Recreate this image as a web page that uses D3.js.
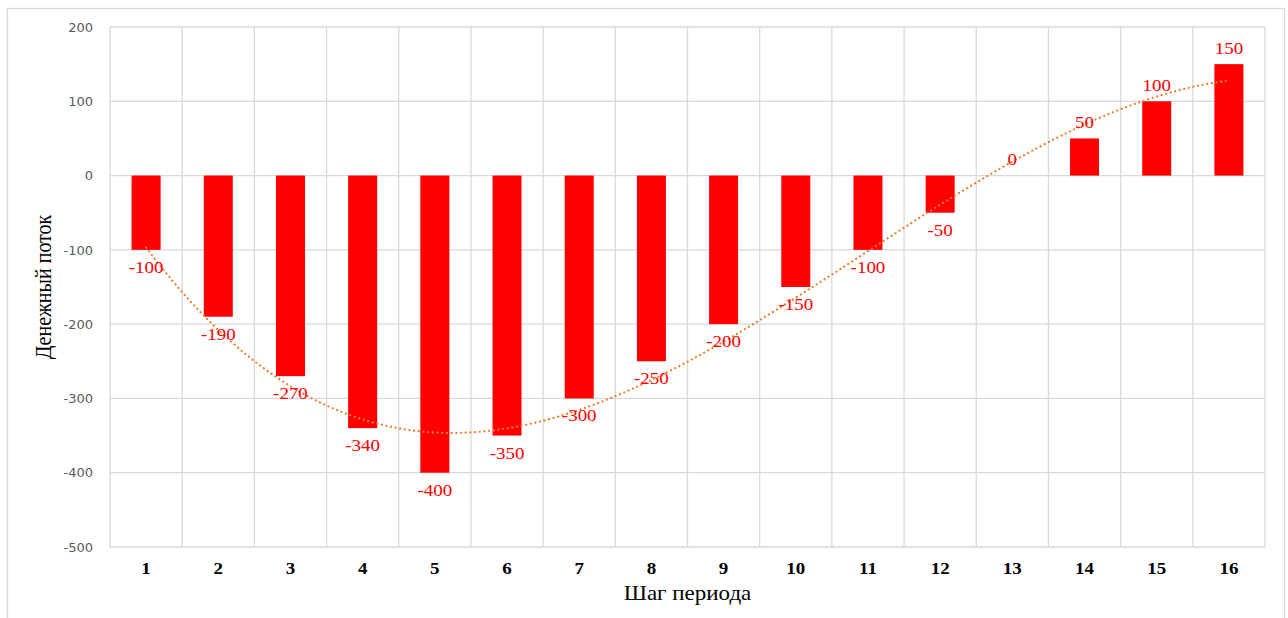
<!DOCTYPE html>
<html><head><meta charset="utf-8">
<script src="https://cdn.jsdelivr.net/npm/d3@7"></script>
<style>body{margin:0;background:#fff;} svg{display:block;}</style>
</head><body>
<script>
const categories = ["1","2","3","4","5","6","7","8","9","10","11","12","13","14","15","16"];
const values = [-100,-190,-270,-340,-400,-350,-300,-250,-200,-150,-100,-50,0,50,100,150];
const yTicks = [200,100,0,-100,-200,-300,-400,-500];
const trendOrder = 3;

const W = 1288, H = 618;
const SX = 1.15; // horizontal stretch of the serif texts
const svg = d3.select("body").append("svg").attr("width", W).attr("height", H);
svg.append("rect").attr("x",7.5).attr("y",8.5).attr("width",1277).attr("height",620)
  .attr("fill","#fff").attr("stroke","#d9d9d9").attr("stroke-width",1.3);

const L = 110, R = 1265, T = 27, B = 547;
const xc = d3.scaleBand().domain(categories).range([L, R]);
const y = d3.scaleLinear().domain([-500, 200]).range([B, T]);

// grid
const g = svg.append("g");
g.selectAll(".hg").data(yTicks).join("line")
  .attr("x1", L).attr("x2", R).attr("y1", d=>y(d)).attr("y2", d=>y(d))
  .attr("stroke","#d9d9d9").attr("stroke-width",1.3);
const vlines = d3.range(categories.length+1).map(i => L + i*xc.step());
g.selectAll(".vg").data(vlines).join("line")
  .attr("x1", d=>d).attr("x2", d=>d).attr("y1", T).attr("y2", B)
  .attr("stroke","#d9d9d9").attr("stroke-width",1.3);

// y axis labels
const ya = d3.axisLeft(y).tickValues(yTicks).tickSize(0).tickPadding(17).tickFormat(d => String(d));
const yg = svg.append("g").attr("transform",`translate(${L},0)`).call(ya);
yg.select(".domain").remove();
yg.selectAll("text").attr("font-family","'DejaVu Sans', sans-serif").attr("font-size",13).attr("fill","#595959");

// x axis labels
const xa = d3.axisBottom(xc).tickSize(0).tickFormat(()=>"");
const xg = svg.append("g").attr("transform",`translate(0,${B})`).call(xa);
xg.select(".domain").remove();
xg.selectAll(".tick").append("text")
  .attr("transform", `translate(0,27) scale(${SX},1)`)
  .attr("text-anchor","middle")
  .attr("font-family","'Liberation Serif', serif").attr("font-size",16.5).attr("font-weight","bold").attr("fill","#000")
  .text(d => d);

// bars
svg.selectAll(".bar").data(values).join("rect")
  .attr("x", (d,i)=> xc(categories[i]) + xc.bandwidth()/2 - 14.5)
  .attr("width", 29)
  .attr("y", d => y(Math.max(0,d)))
  .attr("height", d => Math.abs(y(d)-y(0)))
  .attr("fill","#ff0000");

// trendline: least squares polynomial
function polyfit(xs, ys, n){
  const m = n+1;
  const A = Array.from({length:m},()=>new Array(m+1).fill(0));
  for(let r=0;r<m;r++){
    for(let c=0;c<m;c++) A[r][c]=d3.sum(xs,xv=>Math.pow(xv,r+c));
    A[r][m]=d3.sum(xs,(xv,i)=>Math.pow(xv,r)*ys[i]);
  }
  for(let i=0;i<m;i++){
    let p=i; for(let k=i+1;k<m;k++) if(Math.abs(A[k][i])>Math.abs(A[p][i])) p=k;
    [A[i],A[p]]=[A[p],A[i]];
    for(let k=i+1;k<m;k++){const f=A[k][i]/A[i][i]; for(let c=i;c<=m;c++) A[k][c]-=f*A[i][c];}
  }
  const co=new Array(m).fill(0);
  for(let i=m-1;i>=0;i--){let s=A[i][m]; for(let c=i+1;c<m;c++) s-=A[i][c]*co[c]; co[i]=s/A[i][i];}
  return co;
}
const xs = values.map((d,i)=>i+1);
const co = polyfit(xs, values, trendOrder);
const f = t => co.reduce((s,c,k)=>s+c*Math.pow(t,k),0);
const pts = d3.range(1, 16.001, 0.1).map(t => [L + (t-0.5)*xc.step(), y(f(t))]);
svg.append("path").attr("d", d3.line()(pts))
  .attr("fill","none").attr("stroke","#ed7d31").attr("stroke-width",2.2)
  .attr("stroke-dasharray","0.1 4.6").attr("stroke-linecap","round");

// data labels
svg.selectAll(".lbl").data(values).join("text")
  .attr("transform", (d,i) => `translate(${xc(categories[i]) + xc.bandwidth()/2},${d<0 ? y(d)+23 : y(d)-10.5}) scale(${SX},1)`)
  .attr("text-anchor","middle")
  .attr("font-family","'Liberation Serif', serif").attr("font-size",16.5)
  .attr("fill","#ff0000").text(d=>d);

// axis titles
svg.append("text").attr("transform",`translate(${(L+R)/2},600) scale(${SX},1)`).attr("text-anchor","middle")
  .attr("font-family","'Liberation Serif', serif").attr("font-size",20).text("Шаг периода");
svg.append("text").attr("transform",`translate(51,287) rotate(-90) scale(1,${SX})`).attr("text-anchor","middle")
  .attr("font-family","'Liberation Serif', serif").attr("font-size",20).text("Денежный поток");
</script>
</body></html>
